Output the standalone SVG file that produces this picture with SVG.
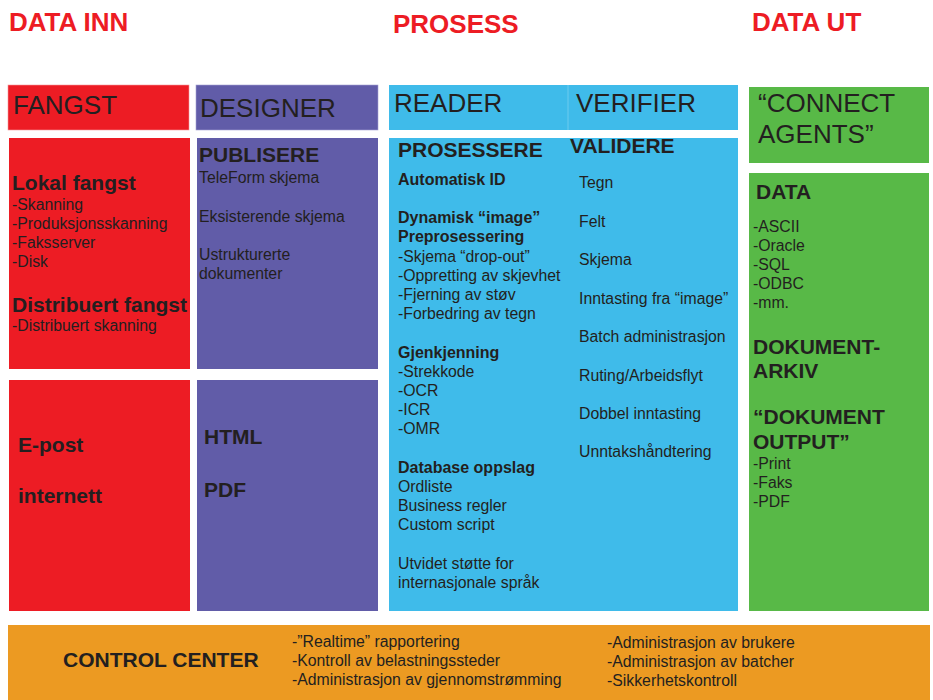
<svg xmlns="http://www.w3.org/2000/svg" width="933" height="700" viewBox="0 0 933 700">
<style>
text{font-family:"Liberation Sans",Arial,sans-serif;fill:#231f20}
.title{font-size:26px;font-weight:bold;fill:#ed1c24}
.hd{font-size:26px}
.b{font-size:21px;font-weight:bold}
.sb{font-size:16px;font-weight:bold}
.t{font-size:15.8px}
.o{font-size:15.8px}
.red{fill:#ed1c24}
.pur{fill:#615ca8}
.blu{fill:#3fbbea}
.grn{fill:#58b947}
.org{fill:#ec9a22}
</style>
<rect width="933" height="700" fill="#ffffff"/>
<g id="titles">
<text class="title" x="9" y="31">DATA INN</text>
<text class="title" x="393" y="33">PROSESS</text>
<text class="title" x="752" y="31">DATA UT</text>
</g>
<g id="fangst">
<rect class="red" x="8" y="85" width="181" height="45" stroke="#f3989c" stroke-width="0.6"/>
<text class="hd" x="13" y="114">FANGST</text>
</g>
<g id="designer">
<rect class="pur" x="196" y="85" width="182" height="45" stroke="#a4a1d2" stroke-width="0.6"/>
<text class="hd" x="200" y="117">DESIGNER</text>
</g>
<g id="reader-verifier">
<rect class="blu" x="389" y="85" width="349" height="45"/>
<line x1="568" y1="85" x2="568" y2="130" stroke="#6ccbef" stroke-width="1"/>
<text class="hd" x="394" y="112">READER</text>
<text class="hd" x="576" y="112">VERIFIER</text>
</g>
<g id="connect-agents">
<rect class="grn" x="749" y="87" width="180" height="76"/>
<text class="hd" x="758" y="112">“CONNECT</text>
<text class="hd" x="758" y="143">AGENTS”</text>
</g>
<g id="fangst-lokal">
<rect class="red" x="9" y="138" width="181" height="231"/>
<text class="b" x="12" y="190">Lokal fangst</text>
<text class="t" x="12" y="210">-Skanning</text>
<text class="t" x="12" y="229">-Produksjonsskanning</text>
<text class="t" x="12" y="248">-Faksserver</text>
<text class="t" x="12" y="267">-Disk</text>
<text class="b" x="12" y="312">Distribuert fangst</text>
<text class="t" x="12" y="331">-Distribuert skanning</text>
</g>
<g id="designer-publisere">
<rect class="pur" x="197" y="138" width="181" height="231"/>
<text class="b" x="199" y="162">PUBLISERE</text>
<text class="t" x="199" y="183">TeleForm skjema</text>
<text class="t" x="199" y="222">Eksisterende skjema</text>
<text class="t" x="199" y="260">Ustrukturerte</text>
<text class="t" x="199" y="279">dokumenter</text>
</g>
<g id="fangst-epost">
<rect class="red" x="9" y="380" width="181" height="231"/>
<text class="b" x="18" y="452">E-post</text>
<text class="b" x="18" y="503">internett</text>
</g>
<g id="designer-html">
<rect class="pur" x="197" y="380" width="181" height="231"/>
<text class="b" x="204" y="444">HTML</text>
<text class="b" x="204" y="497">PDF</text>
</g>
<g id="prosessere-validere">
<rect class="blu" x="389" y="138" width="349" height="473"/>
<text class="b" x="398" y="157">PROSESSERE</text>
<text class="sb" x="398" y="185">Automatisk ID</text>
<text class="sb" x="398" y="223">Dynamisk “image”</text>
<text class="sb" x="398" y="242">Preprosessering</text>
<text class="t" x="398" y="262">-Skjema “drop-out”</text>
<text class="t" x="398" y="281">-Oppretting av skjevhet</text>
<text class="t" x="398" y="300">-Fjerning av støv</text>
<text class="t" x="398" y="319">-Forbedring av tegn</text>
<text class="sb" x="398" y="358">Gjenkjenning</text>
<text class="t" x="398" y="377">-Strekkode</text>
<text class="t" x="398" y="396">-OCR</text>
<text class="t" x="398" y="415">-ICR</text>
<text class="t" x="398" y="434">-OMR</text>
<text class="sb" x="398" y="473">Database oppslag</text>
<text class="t" x="398" y="492">Ordliste</text>
<text class="t" x="398" y="511">Business regler</text>
<text class="t" x="398" y="530">Custom script</text>
<text class="t" x="398" y="569">Utvidet støtte for</text>
<text class="t" x="398" y="588">internasjonale språk</text>
<text class="b" x="570" y="153">VALIDERE</text>
<text class="t" x="579" y="188">Tegn</text>
<text class="t" x="579" y="227">Felt</text>
<text class="t" x="579" y="265">Skjema</text>
<text class="t" x="579" y="304">Inntasting fra “image”</text>
<text class="t" x="579" y="342">Batch administrasjon</text>
<text class="t" x="579" y="381">Ruting/Arbeidsflyt</text>
<text class="t" x="579" y="419">Dobbel inntasting</text>
<text class="t" x="579" y="457">Unntakshåndtering</text>
</g>
<g id="data-ut">
<rect class="grn" x="749" y="173" width="180" height="438"/>
<text class="b" x="756" y="199">DATA</text>
<text class="t" x="753" y="232">-ASCII</text>
<text class="t" x="753" y="251">-Oracle</text>
<text class="t" x="753" y="270">-SQL</text>
<text class="t" x="753" y="289">-ODBC</text>
<text class="t" x="753" y="308">-mm.</text>
<text class="b" x="753" y="354">DOKUMENT-</text>
<text class="b" x="753" y="378">ARKIV</text>
<text class="b" x="753" y="424">“DOKUMENT</text>
<text class="b" x="753" y="449">OUTPUT”</text>
<text class="t" x="753" y="469">-Print</text>
<text class="t" x="753" y="488">-Faks</text>
<text class="t" x="753" y="507">-PDF</text>
</g>
<g id="control-center">
<rect class="org" x="8" y="625" width="922" height="75"/>
<text class="b" x="63" y="667">CONTROL CENTER</text>
<text class="o" x="292" y="647">-”Realtime” rapportering</text>
<text class="o" x="292" y="666">-Kontroll av belastningssteder</text>
<text class="o" x="292" y="685">-Administrasjon av gjennomstrømming</text>
<text class="o" x="607" y="648">-Administrasjon av brukere</text>
<text class="o" x="607" y="667">-Administrasjon av batcher</text>
<text class="o" x="607" y="686">-Sikkerhetskontroll</text>
</g>
<g id="connectors"/>
</svg>
